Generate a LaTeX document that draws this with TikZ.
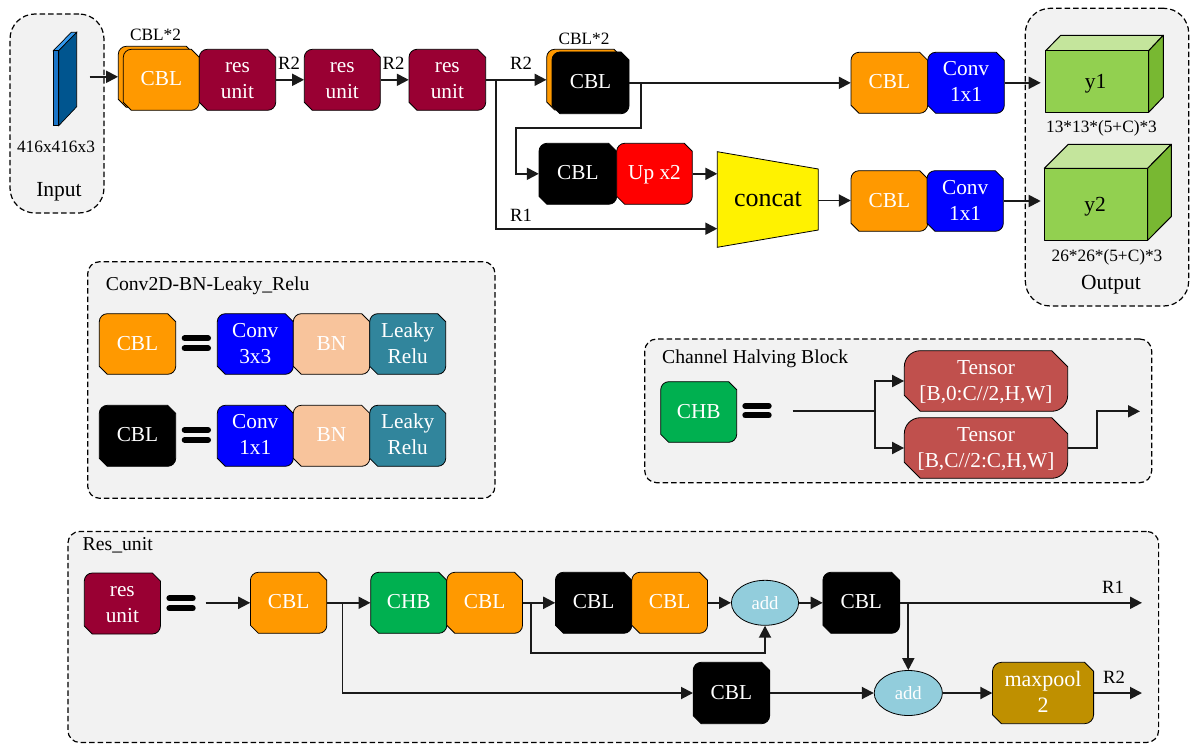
\documentclass[tikz,border=0pt]{standalone}
\usepackage{fontspec}
\setmainfont{Liberation Serif}
\usetikzlibrary{arrows.meta,shapes.geometric}
\definecolor{cOrange}{HTML}{FF9900}
\definecolor{cRes}{HTML}{990033}
\definecolor{cBlue}{HTML}{0000FF}
\definecolor{cRed}{HTML}{FF0000}
\definecolor{cBN}{HTML}{F8C49C}
\definecolor{cLeaky}{HTML}{31859C}
\definecolor{cCHB}{HTML}{00B050}
\definecolor{cTensor}{HTML}{C0504D}
\definecolor{cAdd}{HTML}{92CDDC}
\definecolor{cMax}{HTML}{BF9000}
\definecolor{cPanel}{HTML}{F2F2F2}
\definecolor{cFront}{HTML}{92D050}
\definecolor{cTop}{HTML}{C4E59C}
\definecolor{cSide}{HTML}{78B832}
\definecolor{cLine}{HTML}{1A1A1A}
\newcommand{\bs}{\rule[-4pt]{0pt}{20pt}}
\tikzset{
  x=1pt,y=-1pt,
  boxline/.style={draw=black,line width=0.8pt,line join=round},
  boxtext/.style={text=white,font=\fontsize{21.3}{26}\selectfont,align=center,inner sep=0pt},
  panelstyle/.style={draw=black,fill=cPanel,dashed,dash pattern=on 5.5pt off 3pt,line width=1.2pt,inner sep=0pt},
  conn/.style={draw=cLine,line width=1.9pt,-{Triangle[length=12pt,width=12pt]}},
  plainconn/.style={draw=cLine,line width=1.9pt},
  eqbar/.style={draw=black,line width=6pt,line cap=round},
  lab/.style={text=black,inner sep=0pt,align=center,anchor=base},
  labS/.style={lab,font=\fontsize{17.3}{20}\selectfont},
  labM/.style={lab,font=\fontsize{18.7}{22}\selectfont},
  labT/.style={lab,anchor=base west,font=\fontsize{19.7}{22}\selectfont},
  labL/.style={lab,font=\fontsize{21.5}{25}\selectfont},
  addnode/.style={draw=black,line width=0.8pt,fill=cAdd,ellipse,text=white,inner sep=0pt,font=\fontsize{18.7}{22}\selectfont},
  cubeline/.style={draw=black,line width=1pt,line join=round},
}
% [size] name x1 y1 x2 y2 fill text
\newcommand{\snipbox}[8][8]{%
  \draw[boxline,fill=#7]
    ({#3},{#4+#1}) .. controls ({#3},{#4+.45*#1}) and ({#3+.45*#1},{#4}) .. ({#3+#1},{#4})
    -- ({#5-#1},{#4}) -- ({#5},{#4+#1}) -- ({#5},{#6-#1})
    .. controls ({#5},{#6-.45*#1}) and ({#5-.45*#1},{#6}) .. ({#5-#1},{#6})
    -- ({#3+#1},{#6}) -- ({#3},{#6-#1}) -- cycle;
  \node[boxtext,minimum width={#5-#3},minimum height={#6-#4}] (#2) at ({(#3+#5)/2},{(#4+#6)/2}) {\bs #8};
}
% name x1 y1 x2 y2 radius
\newcommand{\panelbox}[6]{%
  \node[panelstyle,rounded corners=#6pt,minimum width={#4-#2},minimum height={#5-#3}] (#1) at ({(#2+#4)/2},{(#3+#5)/2}) {};
}
\begin{document}
\begin{tikzpicture}
\useasboundingbox (0,0) rectangle (1198,749);
% panels
\panelbox{pInput}{10}{14}{104}{213}{25}
\panelbox{pOutput}{1025.3}{8.3}{1188.7}{306}{25}
\panelbox{pCBL}{87.7}{261.7}{495}{498.3}{12}
\panelbox{pCHB}{644.7}{339}{1151.7}{482.7}{12}
\panelbox{pRes}{67.9}{531.4}{1158.6}{742.5}{12}
% input slab
\draw[draw=black,line width=0.7pt,fill={rgb,255:red,51;green,153;blue,238}] (53.3,50.7) -- (58.7,50.7) -- (76.7,32.3) -- (71.3,32.3) -- cycle;
\draw[draw=black,line width=0.7pt,fill={rgb,255:red,0;green,85;blue,143}] (58.7,50.7) -- (76.7,32.3) -- (76.7,106.7) -- (58.7,125.7) -- cycle;
\draw[draw=black,line width=0.7pt,fill={rgb,255:red,27;green,117;blue,200}] (53.3,50.7) rectangle (58.7,125.7);
\node[labS] (tInputSize) at (56,152.7) {416x416x3};
\node[labL] (tInput) at (59,196.7) {Input};
% top row
\node[labS] (tCBLa) at (155.5,41) {CBL*2};
\snipbox{cblBackA}{118.3}{46.3}{194.3}{107.3}{cOrange}{}
\snipbox{cblA}{123.3}{49.3}{199.3}{110.3}{cOrange}{CBL}
\snipbox{resA}{199.3}{49.3}{275.7}{110.3}{cRes}{res\\\bs unit}
\snipbox{resB}{304.3}{49.3}{380.3}{110.3}{cRes}{res\\\bs unit}
\snipbox{resC}{409}{49.3}{485.7}{110.3}{cRes}{res\\\bs unit}
\node[labS] (tCBLb) at (584,44.3) {CBL*2};
\snipbox{cblBackB}{546.7}{49.3}{622}{110}{cOrange}{}
\snipbox{cblB}{552}{52}{629}{113.7}{black}{CBL}
\snipbox{cblC}{539}{143.3}{616.7}{204.3}{black}{CBL}
\snipbox{upx}{616.7}{143.3}{692.3}{204.3}{cRed}{Up x2}
\draw[draw=black,line width=0.8pt,fill=yellow] (717.3,151.7) -- (818.3,169) -- (818.3,230) -- (717.3,247.3) -- cycle;
\coordinate (concatL) at (717.3,174);
\coordinate (concatR) at (818.3,200.5);
\node[lab,font=\fontsize{26}{30}\selectfont] (concat) at (768,206.7) {concat};
\snipbox{cblD}{851}{52.3}{927.7}{113.3}{cOrange}{CBL}
\snipbox{convD}{927.7}{52.3}{1004.3}{113.3}{cBlue}{Conv\\\bs 1x1}
\snipbox{cblE}{851}{170.7}{927.7}{231.3}{cOrange}{CBL}
\snipbox{convE}{927}{170.7}{1003.3}{231.3}{cBlue}{Conv\\\bs 1x1}
% y1
\draw[cubeline,fill=cTop] (1045.7,50.7) -- (1060.7,35.3) -- (1163.3,35.3) -- (1148.7,50.7) -- cycle;
\draw[cubeline,fill=cSide] (1148.7,50.7) -- (1163.3,35.3) -- (1163.3,97) -- (1148.7,112.3) -- cycle;
\draw[cubeline,fill=cFront] (1045.7,50.7) rectangle (1148.7,112.3);
\node[labL] (yA) at (1095.5,88.3) {y1};
% y2
\draw[cubeline,fill=cTop] (1044.3,168.3) -- (1068.3,144.3) -- (1171.3,144.3) -- (1147.7,168.3) -- cycle;
\draw[cubeline,fill=cSide] (1147.7,168.3) -- (1171.3,144.3) -- (1171.3,216.5) -- (1147.7,240.3) -- cycle;
\draw[cubeline,fill=cFront] (1044.3,168.3) rectangle (1147.7,240.3);
\node[labL] (yB) at (1095,211) {y2};
\node[labS] (tYa) at (1101.5,132.3) {13*13*(5+C)*3};
\node[labS] (tYb) at (1107,261) {26*26*(5+C)*3};
\node[labL] (tOutput) at (1111,289.3) {Output};
% top connectors
\coordinate (inStart) at (89.7,76.8);
\draw[conn] (inStart) -- (cblBackA.west);
\draw[conn] (resA.east) -- (resB.west);
\draw[conn] (resB.east) -- (resC.west);
\draw[conn] (resC.east) -- (cblBackB.west |- resC.east);
\node[labM] (tR2a) at (289,70) {R2};
\node[labM] (tR2b) at (393.5,70) {R2};
\node[labM] (tR2c) at (521,70) {R2};
\node[labM] (tR1a) at (521,221) {R1};
\draw[conn] (cblB.east) -- (cblD.west |- cblB.east);
\coordinate (brA) at (641.3,82.85);
\coordinate (brAb) at (516.3,128.3);
\draw[conn] (brA) |- (brAb) |- (cblC.west);
\draw[conn] (upx.east) -- (upx.east -| concatL);
\coordinate (brB) at (496.3,79.8);
\coordinate (concatIn) at (717.3,228.7);
\draw[conn] (brB) |- (concatIn);
\draw[conn] (concatR) -- (concatR -| cblE.west);
\coordinate (yAin) at (1040.7,82.8);
\coordinate (yBin) at (1040.7,201);
\draw[conn] (convD.east) -- (convD.east -| yAin);
\draw[conn] (convE.east) -- (convE.east -| yBin);
% CBL panel
\node[labT] (tConv) at (105.7,290) {Conv2D-BN-Leaky\_Relu};
\snipbox{lgCBLa}{99.3}{313.7}{175.7}{374.3}{cOrange}{CBL}
\draw[eqbar] (184.7,338.3) -- (208,338.3) (184.7,348.3) -- (208,348.3);
\snipbox{lgConvA}{217.3}{313.7}{293.3}{374.3}{cBlue}{Conv\\\bs 3x3}
\snipbox{lgBNa}{293.3}{313.7}{369.7}{374.3}{cBN}{BN}
\snipbox{lgLeakyA}{369.7}{313.7}{445.7}{374.3}{cLeaky}{Leaky\\\bs Relu}
\snipbox{lgCBLb}{99.3}{405.3}{175.7}{466.3}{black}{CBL}
\draw[eqbar] (184.7,430) -- (208,430) (184.7,440) -- (208,440);
\snipbox{lgConvB}{217.3}{405.3}{293.3}{466.3}{cBlue}{Conv\\\bs 1x1}
\snipbox{lgBNb}{293.3}{405.3}{369.7}{466.3}{cBN}{BN}
\snipbox{lgLeakyB}{369.7}{405.3}{445.7}{466.3}{cLeaky}{Leaky\\\bs Relu}
% CHB panel
\node[labT] (tCHB) at (662,363.3) {Channel Halving Block};
\snipbox{chbKey}{660.7}{381.7}{736.7}{442.3}{cCHB}{CHB}
\draw[eqbar] (745.3,406) -- (768.7,406) (745.3,415.3) -- (768.7,415.3);
\snipbox[16]{tensorA}{904.3}{350.7}{1067.7}{411.3}{cTensor}{Tensor\\\bs [B,0:C//2,H,W]}
\snipbox[16]{tensorB}{904.3}{417.7}{1067.7}{478.3}{cTensor}{Tensor\\\bs [B,C//2:C,H,W]}
\coordinate (chbStart) at (792.7,411.3);
\coordinate (chbBr) at (875,411.3);
\coordinate (chbOutBr) at (1097.3,411.3);
\coordinate (chbOut) at (1140,411.3);
\draw[plainconn] (chbStart) -- (chbBr);
\draw[conn] (chbBr) |- (tensorA.west);
\draw[conn] (chbBr) |- (tensorB.west);
\draw[conn] (tensorB.east) -| (chbOutBr) -- (chbOut);
% Res panel
\node[labT] (tRes) at (82.5,550) {Res\_unit};
\snipbox{rKey}{84.3}{573}{160.4}{634}{cRes}{res\\\bs unit}
\draw[eqbar] (169.4,598.3) -- (192.7,598.3) (169.4,608.3) -- (192.7,608.3);
\snipbox{rCBLa}{250.4}{572.3}{326.8}{633.3}{cOrange}{CBL}
\snipbox{rCHB}{370.7}{572.3}{446.8}{633.3}{cCHB}{CHB}
\snipbox{rCBLb}{446.8}{572.3}{522.5}{633.3}{cOrange}{CBL}
\snipbox{rCBLc}{555.4}{572.3}{631.8}{633.3}{black}{CBL}
\snipbox{rCBLd}{631.8}{572.3}{707.5}{633.3}{cOrange}{CBL}
\node[addnode,minimum width=67.2pt,minimum height=45pt] (addA) at (765,602.8) {add};
\snipbox{rCBLe}{822.9}{572.3}{899.6}{633.3}{black}{CBL}
\snipbox{rCBLf}{693.2}{662.3}{769.6}{723.7}{black}{CBL}
\node[addnode,minimum width=68.2pt,minimum height=45pt] (addB) at (908.3,693) {add};
\snipbox[9]{rMax}{992.5}{662.3}{1093.6}{723.7}{cMax}{\fontsize{22}{26}\selectfont maxpool\\\bs\fontsize{22}{26}\selectfont 2}
\coordinate (rStart) at (205.7,602.8);
\coordinate (rR1) at (1142,602.8);
\coordinate (rR2) at (1142,693);
\coordinate (brC) at (342.5,602.8);
\coordinate (brD) at (531.4,602.8);
\coordinate (brDb) at (531.4,653.3);
\coordinate (brE) at (908.3,602.8);
\draw[conn] (rStart) -- (rCBLa.west);
\draw[conn] (rCBLa.east) -- (rCHB.west);
\draw[conn] (rCBLb.east) -- (rCBLc.west);
\draw[conn] (rCBLd.east) -- (addA.west);
\draw[conn] (addA.east) -- (rCBLe.west);
\draw[conn] (rCBLe.east) -- (rR1);
\draw[conn] (brC) |- (rCBLf.west);
\draw[conn] (brD) -- (brDb) -| (addA.south);
\draw[conn] (brE) -- (addB.north);
\draw[conn] (rCBLf.east) -- (addB.west);
\draw[conn] (addB.east) -- (rMax.west);
\draw[conn] (rMax.east) -- (rR2);
\node[labM] (tR1b) at (1113,593.3) {R1};
\node[labM] (tR2d) at (1114,683.3) {R2};
\end{tikzpicture}
\end{document}
